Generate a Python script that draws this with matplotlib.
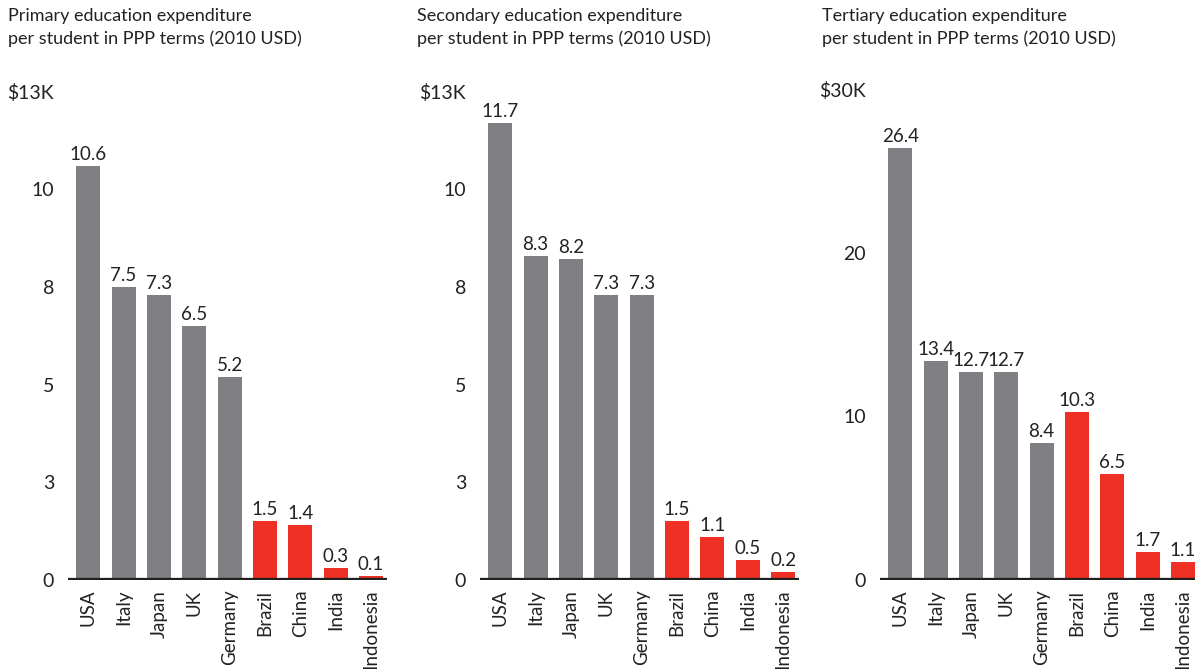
# three bar charts of education spending per student, one for each level
import matplotlib.pyplot as plt
import numpy as np

plt.rcParams['font.family'] = ['Lato', 'DejaVu Sans']

countries = ['USA', 'Italy', 'Japan', 'UK', 'Germany', 'Brazil', 'China', 'India', 'Indonesia']
emerging = ['Brazil', 'China', 'India', 'Indonesia']

primary = [10.6, 7.5, 7.3, 6.5, 5.2, 1.5, 1.4, 0.3, 0.1]
secondary = [11.7, 8.3, 8.2, 7.3, 7.3, 1.5, 1.1, 0.5, 0.2]
tertiary = [26.4, 13.4, 12.7, 12.7, 8.4, 10.3, 6.5, 1.7, 1.1]

titles = ['Primary education expenditure\nper student in PPP terms (2010 USD)',
          'Secondary education expenditure\nper student in PPP terms (2010 USD)',
          'Tertiary education expenditure\nper student in PPP terms (2010 USD)']

# y ticks and their (rounded) labels
ticks_13 = [0, 2.5, 5, 7.5, 10, 12.5]
labels_13 = ['0', '3', '5', '8', '10', '$13K']
ticks_30 = [0, 10, 20, 30]
labels_30 = ['0', '10', '20', '$30K']

grey = '#808084'
red = '#ee3124'
black = '#231f20'

W, H = 1195, 669
fig = plt.figure(figsize=(W / 100, H / 100), dpi=100)

panels = [
    (primary, titles[0], ticks_13, labels_13, 12.79, 68, 8),
    (secondary, titles[1], ticks_13, labels_13, 12.79, 480, 417),
    (tertiary, titles[2], ticks_30, labels_30, 30.58, 880, 822),
]

x = np.arange(len(countries))
colors = [red if c in emerging else grey for c in countries]

for values, title, ticks, tlabels, ytop, left_px, title_px in panels:
    ax = fig.add_axes([left_px / W, (H - 580) / H, 319 / W, 500 / H])
    ax.bar(x, values, width=0.68, color=colors, zorder=2)
    ax.axhline(0, color=black, lw=3.8, zorder=3)
    for xi, v in zip(x, values):
        ax.text(xi, v + ytop * 0.006, f'{v:.1f}', ha='center', va='bottom',
                fontsize=13.5, color='#222222')
    ax.set_xlim(-0.57, 8.45)
    ax.set_ylim(0, ytop)
    ax.set_yticks(ticks)
    ax.set_yticklabels(tlabels)
    ax.set_xticks(x)
    ax.set_xticklabels(countries, rotation=90)
    ax.tick_params(axis='y', length=0, pad=10, labelsize=14, labelcolor='#222222')
    ax.tick_params(axis='x', length=0, pad=7, labelsize=13.5, labelcolor='#222222')
    for s in ax.spines.values():
        s.set_visible(False)
    fig.text(title_px / W, 1 - 8 / H, title, ha='left', va='top', fontsize=13,
             color='#222222', linespacing=1.45)

fig.savefig('out.png', dpi=100)
